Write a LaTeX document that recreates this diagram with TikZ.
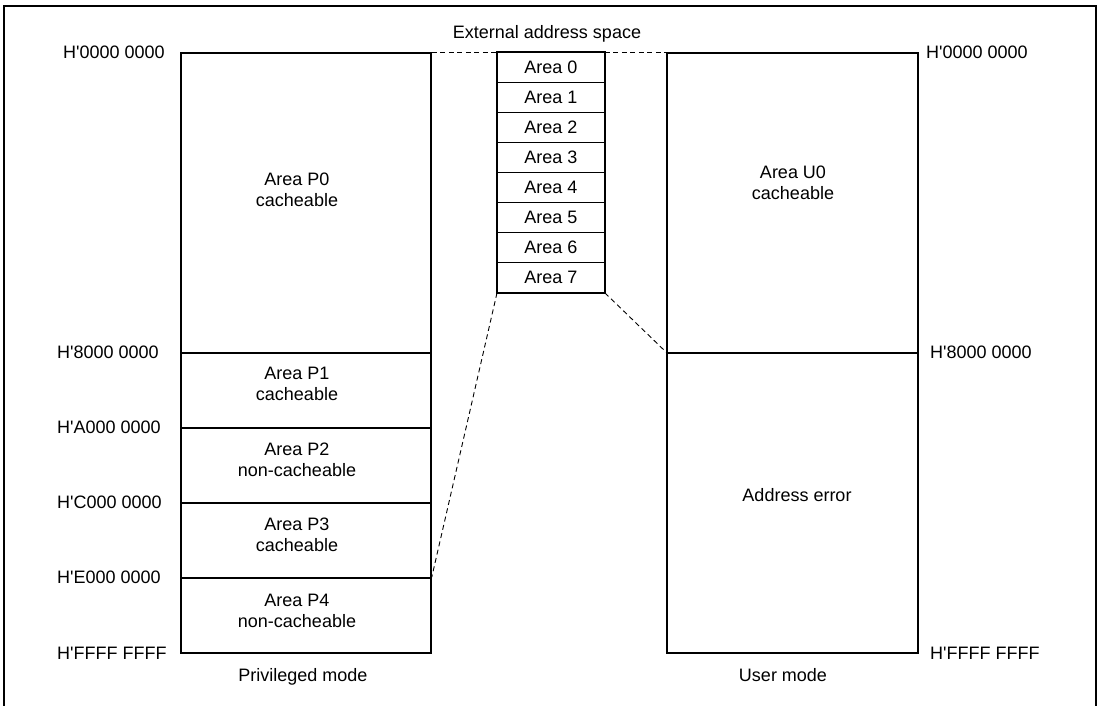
\documentclass[tikz,border=0pt]{standalone}
\usepackage{fontspec}
\setmainfont{Liberation Sans}[Ligatures=TeXOff]
\begin{document}
\begin{tikzpicture}[x=1pt,y=-1pt,
  every node/.style={font=\fontsize{18}{21}\selectfont},
  seg/.style={draw, line width=1.8pt, minimum width=250pt, inner sep=0pt, anchor=north west},
  useg/.style={draw, line width=1.8pt, minimum width=251pt, inner sep=0pt, anchor=north west},
  ext/.style={draw, line width=0.9pt, minimum width=107pt, minimum height=30pt, inner sep=0pt, anchor=north west},
  txt/.style={align=center, inner sep=0pt},
  addr/.style={anchor=west, inner sep=0pt},
  map/.style={line width=0.9pt, dash pattern=on 5pt off 3.5pt}]
\clip (0,0) rectangle (1102,705);
\useasboundingbox (0,0) rectangle (1102,705);
% frame
\draw[line width=1.8pt] (4,720) -- (4,6) -- (1096,6) -- (1096,720);
% privileged column
\node[seg, minimum height=300pt] (p0) at (180,52) {};
\node[seg, minimum height=75pt] (p1) at (180,352) {};
\node[seg, minimum height=75pt] (p2) at (180,427) {};
\node[seg, minimum height=75pt] (p3) at (180,502) {};
\node[seg, minimum height=75pt] (p4) at (180,577) {};
\node[txt] (tp0) at (297,190) {Area P0\\cacheable};
\node[txt] (tp1) at (297,384) {Area P1\\cacheable};
\node[txt] (tp2) at (297,460) {Area P2\\non-cacheable};
\node[txt] (tp3) at (297,535) {Area P3\\cacheable};
\node[txt] (tp4) at (297,611) {Area P4\\non-cacheable};
\node[txt] (pm) at (303,677) {Privileged mode};
% left addresses
\node[addr] (l0) at (63,52) {H'0000 0000};
\node[addr] (l8) at (57,352) {H'8000 0000};
\node[addr] (la) at (57,427) {H'A000 0000};
\node[addr] (lc) at (57,502) {H'C000 0000};
\node[addr] (le) at (57,577) {H'E000 0000};
\node[addr] (lf) at (57,653) {H'FFFF FFFF};
% external address space
\node[txt] (extt) at (547,34) {External address space};
\foreach \i in {0,...,7} {
  \node[ext] (a\i) at (497,52+30*\i) {Area \i};
}
\draw[line width=1.8pt] (a0.north west) rectangle (a7.south east);
% user column
\node[useg, minimum height=300pt] (u0) at (666,52) {};
\node[useg, minimum height=300pt] (ae) at (666,352) {};
\node[txt] (tu0) at (793,183) {Area U0\\cacheable};
\node[txt] (tae) at (797,495) {Address error};
\node[txt] (um) at (783,675) {User mode};
% right addresses
\node[addr] (r0) at (926,52) {H'0000 0000};
\node[addr] (r8) at (930,352) {H'8000 0000};
\node[addr] (rf) at (930,653) {H'FFFF FFFF};
% mapping lines
\draw[map] (p0.north east) -- (a0.north west);
\draw[map] (a0.north east) -- (u0.north west);
\draw[map] (a7.south west) -- (p4.north east);
\draw[map] (a7.south east) -- (ae.north west);
\end{tikzpicture}
\end{document}
